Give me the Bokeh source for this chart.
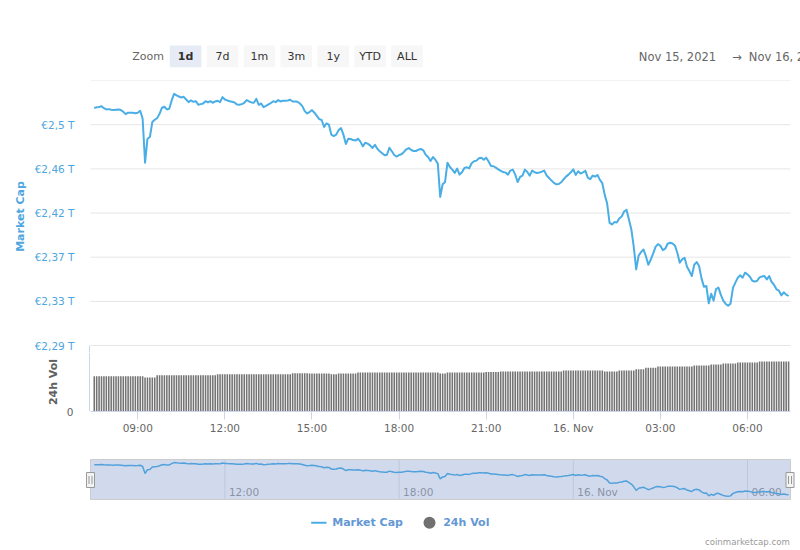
from bokeh.plotting import figure
from bokeh.models import Range1d, FixedTicker
from bokeh.layouts import column
from bokeh.embed import file_html
from bokeh.resources import INLINE
from bokeh.core.properties import value

# ---------------- data ----------------
# Total crypto market cap, trillions of EUR, every 5 minutes from Nov 15 2021 07:30
market_cap = [
    2.5158, 2.5164, 2.5167, 2.5175, 2.5156, 2.5144, 2.5147, 2.5141, 2.5138, 2.5141,
    2.5144, 2.5138, 2.5122, 2.5100, 2.5113, 2.5113, 2.5113, 2.5109, 2.5113, 2.5131,
    2.5056, 2.4642, 2.4868, 2.4884, 2.5025, 2.5047, 2.5062, 2.5103, 2.5160, 2.5169,
    2.5144, 2.5150, 2.5229, 2.5291, 2.5276, 2.5266, 2.5257, 2.5263, 2.5238, 2.5213,
    2.5229, 2.5216, 2.5222, 2.5188, 2.5194, 2.5200, 2.5222, 2.5210, 2.5222, 2.5207,
    2.5219, 2.5226, 2.5213, 2.5260, 2.5238, 2.5229, 2.5222, 2.5216, 2.5210, 2.5191,
    2.5188, 2.5194, 2.5207, 2.5232, 2.5219, 2.5210, 2.5207, 2.5244, 2.5188, 2.5200,
    2.5166, 2.5178, 2.5191, 2.5204, 2.5222, 2.5213, 2.5232, 2.5219, 2.5226, 2.5226,
    2.5229, 2.5235, 2.5219, 2.5219, 2.5216, 2.5200, 2.5175, 2.5128, 2.5106, 2.5119,
    2.5138, 2.5113, 2.5084, 2.5053, 2.5044, 2.4978, 2.5012, 2.5000, 2.4906, 2.4893,
    2.4906, 2.4949, 2.4968, 2.4906, 2.4818, 2.4868, 2.4865, 2.4855, 2.4852, 2.4868,
    2.4840, 2.4796, 2.4830, 2.4821, 2.4805, 2.4780, 2.4811, 2.4774, 2.4749, 2.4730,
    2.4711, 2.4717, 2.4783, 2.4749, 2.4714, 2.4699, 2.4714, 2.4721, 2.4743, 2.4768,
    2.4780, 2.4761, 2.4752, 2.4752, 2.4764, 2.4771, 2.4758, 2.4717, 2.4695, 2.4658,
    2.4695, 2.4670, 2.4633, 2.4319, 2.4438, 2.4460, 2.4642, 2.4601, 2.4576, 2.4545,
    2.4586, 2.4529, 2.4551, 2.4592, 2.4598, 2.4589, 2.4636, 2.4655, 2.4661, 2.4683,
    2.4689, 2.4670, 2.4689, 2.4652, 2.4611, 2.4608, 2.4595, 2.4579, 2.4564, 2.4554,
    2.4548, 2.4529, 2.4567, 2.4576, 2.4529, 2.4460, 2.4507, 2.4520, 2.4576, 2.4554,
    2.4520, 2.4567, 2.4551, 2.4545, 2.4548, 2.4557, 2.4567, 2.4520, 2.4498, 2.4473,
    2.4451, 2.4438, 2.4441, 2.4457, 2.4485, 2.4510, 2.4529, 2.4551, 2.4579, 2.4526,
    2.4561, 2.4539, 2.4551, 2.4564, 2.4501, 2.4485, 2.4520, 2.4510, 2.4526, 2.4479,
    2.4448, 2.4338, 2.4256, 2.4074, 2.4059, 2.4081, 2.4078, 2.4115, 2.4134, 2.4181,
    2.4197, 2.4106, 2.4012, 2.3848, 2.3635, 2.3764, 2.3798, 2.3823, 2.3761, 2.3679,
    2.3726, 2.3783, 2.3848, 2.3874, 2.3858, 2.3817, 2.3830, 2.3877, 2.3886, 2.3880,
    2.3861, 2.3792, 2.3698, 2.3729, 2.3745, 2.3660, 2.3619, 2.3572, 2.3679, 2.3704,
    2.3667, 2.3550, 2.3472, 2.3478, 2.3315, 2.3406, 2.3340, 2.3450, 2.3463, 2.3394,
    2.3340, 2.3309, 2.3293, 2.3312, 2.3460, 2.3510, 2.3557, 2.3579, 2.3557, 2.3604,
    2.3588, 2.3566, 2.3528, 2.3519, 2.3528, 2.3560, 2.3569, 2.3572, 2.3541, 2.3572,
    2.3516, 2.3488, 2.3447, 2.3434, 2.3390, 2.3419, 2.3397, 2.3384,
]

# 24h volume, billions of EUR, same 5-minute timestamps
volume_24h = [
    101.6, 101.6, 101.6, 101.6, 101.6, 101.6, 101.6, 101.6, 101.6, 101.6, 101.6, 101.6,
    101.6, 101.6, 101.6, 101.6, 101.6, 101.6, 101.6, 101.6, 101.6, 97.9, 97.9, 97.9,
    97.9, 97.9, 104.5, 104.5, 104.5, 104.5, 104.5, 104.5, 104.5, 104.5, 104.5, 104.5,
    104.5, 104.5, 104.5, 104.5, 104.5, 104.5, 104.5, 104.5, 104.5, 104.5, 104.5, 104.5,
    104.5, 104.5, 104.5, 107.4, 107.4, 107.4, 107.4, 107.4, 107.4, 107.4, 107.4, 107.4,
    107.4, 107.4, 107.4, 107.4, 107.4, 107.4, 107.4, 107.4, 107.4, 107.4, 107.4, 107.4,
    107.4, 107.4, 107.4, 107.4, 107.4, 107.4, 107.4, 107.4, 107.4, 107.4, 110.3, 110.3,
    110.3, 110.3, 110.3, 110.3, 110.3, 109.4, 109.4, 109.4, 109.4, 109.4, 109.4, 109.4,
    109.4, 109.4, 107.4, 107.4, 107.4, 109.4, 109.4, 109.4, 109.4, 109.4, 109.4, 109.4,
    109.4, 112.3, 112.3, 112.3, 112.3, 112.3, 112.3, 112.3, 112.3, 112.3, 112.3, 112.3,
    112.3, 112.3, 112.3, 112.3, 112.3, 112.3, 112.3, 112.3, 112.3, 112.3, 112.3, 112.3,
    112.3, 112.3, 112.3, 112.3, 112.3, 112.3, 112.3, 112.3, 112.3, 112.3, 112.3, 109.4,
    109.4, 109.4, 112.3, 112.3, 112.3, 112.3, 112.3, 112.3, 112.3, 112.3, 112.3, 112.3,
    112.3, 112.3, 112.3, 112.3, 112.3, 112.3, 113.7, 113.7, 113.7, 113.7, 113.7, 113.7,
    115.2, 115.2, 115.2, 115.2, 115.2, 115.2, 115.2, 115.2, 115.2, 115.2, 115.2, 115.2,
    115.2, 115.2, 115.2, 115.2, 115.2, 115.2, 115.2, 115.2, 115.2, 115.2, 115.2, 115.2,
    115.2, 115.2, 118.0, 118.0, 118.0, 118.0, 118.0, 118.0, 118.0, 118.0, 118.0, 118.0,
    118.0, 118.0, 118.0, 118.0, 118.0, 118.0, 118.0, 115.2, 115.2, 115.2, 115.2, 115.2,
    115.2, 118.0, 118.0, 118.0, 118.0, 118.0, 118.0, 118.0, 121.8, 121.8, 121.8, 121.8,
    125.8, 125.8, 125.8, 125.8, 125.8, 129.6, 129.6, 129.6, 129.6, 129.6, 129.6, 129.6,
    129.6, 129.6, 129.6, 129.6, 129.6, 129.6, 129.6, 129.6, 132.4, 132.4, 132.4, 132.4,
    132.4, 132.4, 132.4, 135.3, 135.3, 135.3, 135.3, 135.3, 138.2, 138.2, 138.2, 138.2,
    138.2, 138.2, 141.1, 141.1, 141.1, 141.1, 141.1, 141.1, 141.1, 141.1, 141.1, 144.0,
    144.0, 144.0, 144.0, 144.0, 144.0, 144.0, 144.0, 144.0, 144.0, 144.0, 144.0, 144.0,
]

start_hour = 7.5          # Nov 15 2021, 07:30 (hours since Nov 15 00:00)
step_hours = 5 / 60       # 5-minute sampling

x_tick_hours = [9, 12, 15, 18, 21, 24, 27, 30]
x_tick_labels = ["09:00", "12:00", "15:00", "18:00", "21:00", "16. Nov", "03:00", "06:00"]
nav_tick_hours = [12, 18, 24, 30]
nav_tick_labels = ["12:00", "18:00", "16. Nov", "06:00"]
cap_ticks = [2.2917, 2.3333, 2.375, 2.4167, 2.4583, 2.5]
cap_tick_labels = ["€2,29 T", "€2,33 T", "€2,37 T", "€2,42 T", "€2,46 T", "€2,5 T"]
cap_grid = [2.2917, 2.3333, 2.375, 2.4167, 2.4583, 2.5, 2.5417]
vol_ticks = [0]
vol_tick_labels = ["0"]
zoom_buttons = ["1d", "7d", "1m", "3m", "1y", "YTD", "ALL"]
selected_button = "1d"
date_from, date_to = "Nov 15, 2021", "Nov 16, 2021"

times = [start_hour + i * step_hours for i in range(len(market_cap))]
vol_times = [start_hour + i * step_hours for i in range(len(volume_24h))]

# ---------------- style / layout ----------------
FONT = "DejaVu Sans"
LINE_BLUE = "#4aaee6"
AXIS_BLUE = "#4ea6e0"
LEGEND_BLUE = "#6498d4"
W = 800
BL, BR = 82, 0                     # common left / right borders of every figure

X0, X1 = 7.3708, 31.4819          # hours at the plot area's left / right edge
PL, PR = 90, 790                   # pixel x of the plot area edges
px_per_h = (PR - PL) / (X1 - X0)


def hx(px):
    return X0 + (px - PL) / px_per_h


XR = (hx(BL), hx(W - BR))          # data x-range covering the whole frame

# price pane: frame from y=80 to y=352, 1060 px per trillion
CAP_HI = 2.5417
CAP_PX_PER_T = 1060.0
CAP_FRAME_H = 272
CAP_LO = CAP_HI - CAP_FRAME_H / CAP_PX_PER_T
CAP_PANE_BOTTOM = 2.2917           # value at the top edge of the volume pane

# volume pane: 0 at y=411, 190 bn at y=345, frame from y=352
VOL_PANE, VOL_PANE_PX = 190.0, 66
VOL_FRAME_H = 59
VOL_HI = VOL_PANE * VOL_FRAME_H / VOL_PANE_PX


def bare(fig):
    fig.outline_line_color = None
    fig.background_fill_color = "white"
    fig.border_fill_color = "white"


# ---------------- header: zoom buttons + date range ----------------
h = figure(width=W, height=80, x_range=Range1d(BL, W - BR), y_range=Range1d(80, 0),
           tools="", toolbar_location=None, output_backend="svg",
           min_border_left=BL, min_border_right=BR, min_border_top=0, min_border_bottom=0,
           x_axis_location=None, y_axis_location=None)
bare(h)
h.grid.visible = False
btn_left0, btn_step, btn_w, btn_top, btn_bot = 169.3, 36.9, 31.6, 45, 66.7
lefts = [btn_left0 + i * btn_step for i in range(len(zoom_buttons))]
h.quad(left=lefts, right=[l + btn_w for l in lefts], top=btn_top, bottom=btn_bot,
       fill_color=["#e6ebf5" if b == selected_button else "#f7f7f7" for b in zoom_buttons],
       line_color=None)
h.text(x=[l + btn_w / 2 for l in lefts], y=56, text=zoom_buttons,
       text_font=value(FONT), text_font_size="11px", text_align="center", text_baseline="middle",
       text_color="#333333",
       text_font_style=["bold" if b == selected_button else "normal" for b in zoom_buttons])
h.text(x=[131.7], y=[56], text=["Zoom"], text_font=value(FONT), text_font_size="11px",
       text_align="left", text_baseline="middle", text_color="#666666")
h.text(x=[638.3, 748.3], y=[56, 56], text=[date_from, date_to], text_font=value(FONT),
       text_font_size="11.5px", text_align="left", text_baseline="middle", text_color="#666666")
h.text(x=[736.5], y=[56], text=["→"], text_font=value(FONT), text_font_size="11.5px",
       text_align="center", text_baseline="middle", text_color="#666666")

# ---------------- price pane ----------------
p = figure(width=W, height=CAP_FRAME_H, x_range=Range1d(*XR), y_range=Range1d(CAP_LO, CAP_HI),
           tools="", toolbar_location=None, output_backend="svg",
           min_border_left=BL, min_border_right=BR, min_border_top=0, min_border_bottom=0,
           x_axis_location=None)
bare(p)
p.segment(x0=X0, y0=cap_grid, x1=X1, y1=cap_grid, line_color="#e6e6e6", line_width=1)
p.line(times, market_cap, line_color=LINE_BLUE, line_width=2, line_join="round")
p.segment(x0=[hx(89)], y0=[CAP_PANE_BOTTOM], x1=[hx(89)], y1=[CAP_LO],
          line_color="#ccd6eb", line_width=1)

ya = p.yaxis[0]
ya.ticker = FixedTicker(ticks=cap_ticks, minor_ticks=[])
ya.major_label_overrides = dict(zip(cap_ticks, cap_tick_labels))
ya.major_tick_in = 0
ya.major_tick_out = 0
ya.minor_tick_line_color = None
ya.major_tick_line_color = None
ya.axis_line_color = None
ya.major_label_standoff = 8
ya.major_label_text_font = FONT
ya.major_label_text_font_size = "10.5px"
ya.major_label_text_color = AXIS_BLUE
ya.axis_label = "Market Cap"
ya.axis_label_text_font = FONT
ya.axis_label_text_font_size = "11px"
ya.axis_label_text_font_style = "bold"
ya.axis_label_text_color = AXIS_BLUE
ya.axis_label_standoff = 5
p.grid.visible = False

# ---------------- volume pane (with the time axis) ----------------
v = figure(width=W, height=VOL_FRAME_H + 29, x_range=p.x_range, y_range=Range1d(0, VOL_HI),
           tools="", toolbar_location=None, output_backend="svg",
           min_border_left=BL, min_border_right=BR, min_border_top=0, min_border_bottom=29)
bare(v)
v.vbar(x=vol_times, top=volume_24h, bottom=0, width=step_hours * 0.64,
       fill_color="#737373", line_color=None)
v.segment(x0=[hx(89)], y0=[0], x1=[hx(89)], y1=[VOL_HI], line_color="#ccd6eb", line_width=1)

vy = v.yaxis[0]
vy.ticker = FixedTicker(ticks=vol_ticks, minor_ticks=[])
vy.major_label_overrides = dict(zip(vol_ticks, vol_tick_labels))
vy.bounds = (0, 2 * VOL_PANE * (411 - 377.5) / VOL_PANE_PX)
vy.major_tick_in = 0
vy.major_tick_out = 0
vy.minor_tick_line_color = None
vy.major_tick_line_color = None
vy.axis_line_color = None
vy.major_label_standoff = 9
vy.major_label_text_font = FONT
vy.major_label_text_font_size = "10.5px"
vy.major_label_text_color = "#666666"
vy.axis_label = "24h Vol"
vy.axis_label_text_font = FONT
vy.axis_label_text_font_size = "11px"
vy.axis_label_text_font_style = "bold"
vy.axis_label_text_color = "#606060"
vy.axis_label_standoff = 4

xa = v.xaxis[0]
xa.ticker = FixedTicker(ticks=x_tick_hours, minor_ticks=[])
xa.major_label_overrides = dict(zip(x_tick_hours, x_tick_labels))
xa.bounds = (X0, X1)
xa.axis_line_color = "#ccd6eb"
xa.major_tick_line_color = "#ccd6eb"
xa.major_tick_in = 0
xa.major_tick_out = 8
xa.minor_tick_line_color = None
xa.major_label_standoff = 2
xa.major_label_text_font = FONT
xa.major_label_text_font_size = "10.5px"
xa.major_label_text_color = "#666666"
v.grid.visible = False

# ---------------- navigator ----------------
NAV_LO, NAV_HI = 2.3097, 2.5473
NAV_TOP_PX, NAV_BOT_PX = 459, 499
nav_per_px = (NAV_HI - NAV_LO) / (NAV_BOT_PX - NAV_TOP_PX)


def ny(py):
    return NAV_LO + (NAV_BOT_PX - py) * nav_per_px


n = figure(width=W, height=70, x_range=Range1d(*XR), y_range=Range1d(ny(505), ny(455)),
           tools="", toolbar_location=None, output_backend="svg",
           min_border_left=BL, min_border_right=BR, min_border_top=15, min_border_bottom=5,
           x_axis_location=None, y_axis_location=None)
bare(n)
n.grid.visible = False
n.segment(x0=nav_tick_hours, y0=NAV_LO, x1=nav_tick_hours, y1=NAV_HI, line_color="#e6e6e6", line_width=1)
n.text(x=nav_tick_hours, y=ny(491), text=nav_tick_labels, x_offset=4, text_font=value(FONT),
       text_font_size="10.5px", text_align="left", text_baseline="middle", text_color="#999999")
n.line(times, market_cap, line_color=LINE_BLUE, line_width=1.5)
n.quad(left=[X0], right=[X1], bottom=[NAV_LO], top=[NAV_HI], fill_color=(102, 133, 194),
       fill_alpha=0.3, line_color="#cccccc", line_width=1)
handle_x = [hx(90), hx(789.5)]
n.rect(x=handle_x, y=ny(479.5), width=8, height=15, width_units="screen", height_units="screen",
       fill_color="#f2f2f2", line_color="#999999", line_width=1)
grip_x = [hx(88.5), hx(91.5), hx(788), hx(791)]
n.segment(x0=grip_x, y0=ny(475.5), x1=grip_x, y1=ny(483.5), line_color="#999999", line_width=1)

# ---------------- footer: legend + credits ----------------
f = figure(width=W, height=40, x_range=Range1d(BL, W - BR), y_range=Range1d(550, 510),
           tools="", toolbar_location=None, output_backend="svg",
           min_border_left=BL, min_border_right=BR, min_border_top=0, min_border_bottom=0,
           x_axis_location=None, y_axis_location=None)
bare(f)
f.grid.visible = False
f.segment(x0=[310.7], y0=[522.3], x1=[326], y1=[522.3], line_color=LINE_BLUE, line_width=2)
f.scatter(x=[429], y=[522.3], size=12, fill_color="#707070", line_color=None)
f.text(x=[331.7, 442.7], y=[522.3, 522.3], text=["Market Cap", "24h Vol"], text_font=value(FONT),
       text_font_size="11px", text_font_style="bold", text_align="left", text_baseline="middle",
       text_color=LEGEND_BLUE)
f.text(x=[789.3], y=[541], text=["coinmarketcap.com"], text_font=value(FONT),
       text_font_size="8.6px", text_align="right", text_baseline="middle", text_color="#999999")

layout = column(h, p, v, n, f, spacing=0)
open("out.html", "w").write(file_html(layout, INLINE))
